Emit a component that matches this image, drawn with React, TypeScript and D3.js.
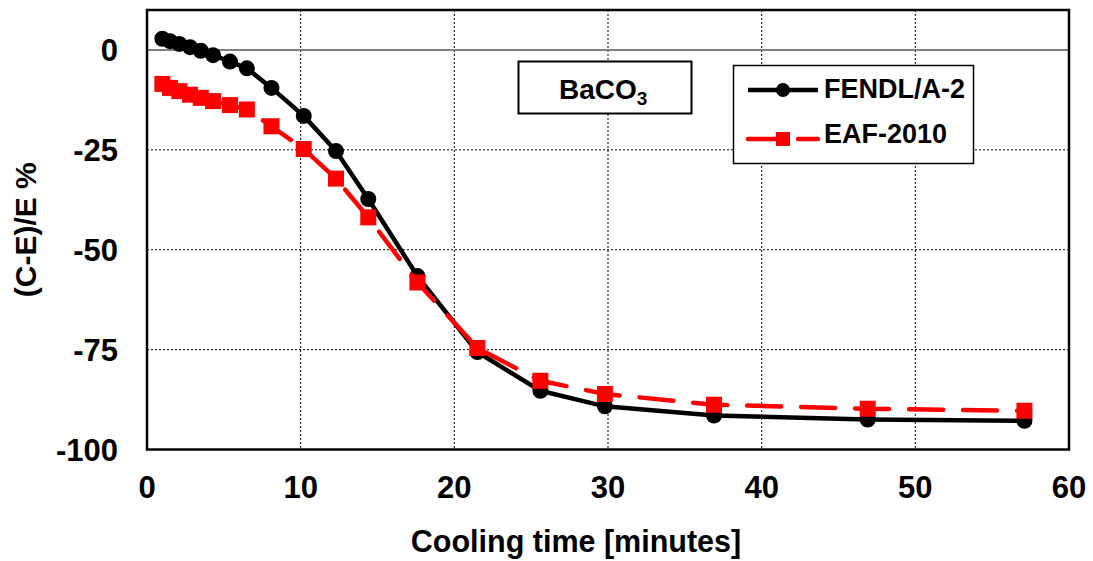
import React from "react";
import * as d3 from "d3";

// Cooling times (minutes) at which both libraries were compared
const coolingTimes = [1.0, 1.5, 2.1, 2.8, 3.5, 4.3, 5.4, 6.5, 8.1, 10.2, 12.3, 14.4, 17.6, 21.5, 25.6, 29.8, 36.9, 46.9, 57.1];
// (C-E)/E deviations in percent
const fendlValues = [2.8, 2.2, 1.5, 0.7, -0.2, -1.3, -2.9, -4.6, -9.5, -16.5, -25.3, -37.3, -56.6, -75.6, -85.3, -89.2, -91.5, -92.5, -92.8];
const eafValues = [-8.5, -9.5, -10.3, -11.2, -12.0, -12.8, -13.8, -14.9, -19.1, -24.8, -32.2, -41.9, -58.2, -74.6, -82.8, -86.1, -88.8, -89.8, -90.3];

const xTicks = [0, 10, 20, 30, 40, 50, 60];
const yTicks = [0, -25, -50, -75, -100];
const seriesNames = ["FENDL/A-2", "EAF-2010"];

const W = 1093;
const H = 561;
const plot = { left: 147, right: 1069, top: 10, bottom: 449.5 };
const FONT = "'Liberation Sans', Arial, Helvetica, sans-serif";

export default function App() {
  const x = d3.scaleLinear().domain([0, 60]).range([plot.left, plot.right]);
  const y = d3.scaleLinear().domain([-100, 10]).range([plot.bottom, plot.top]);

  const line = d3
    .line<[number, number]>()
    .x((d) => x(d[0]))
    .y((d) => y(d[1]));

  const fendl: [number, number][] = coolingTimes.map((t, i) => [t, fendlValues[i]]);
  const eaf: [number, number][] = coolingTimes.map((t, i) => [t, eafValues[i]]);

  const sq = 16;

  return (
    <svg
      width={W}
      height={H}
      style={{ position: "absolute", left: 0, top: 0, background: "#fff" }}
      fontFamily={FONT}
      fontWeight="bold"
    >
      <rect x={0} y={0} width={W} height={H} fill="#fff" />

      {/* grid */}
      {xTicks.slice(1, -1).map((t) => (
        <line key={"gx" + t} x1={x(t)} x2={x(t)} y1={plot.top} y2={plot.bottom} stroke="#000" strokeWidth={1} strokeDasharray="2 2" />
      ))}
      {yTicks.filter((t) => t !== 0 && t !== -100).map((t) => (
        <line key={"gy" + t} x1={plot.left} x2={plot.right} y1={y(t)} y2={y(t)} stroke="#000" strokeWidth={1} strokeDasharray="2 2" />
      ))}
      {/* zero reference */}
      <line x1={plot.left} x2={plot.right} y1={y(0)} y2={y(0)} stroke="#808080" strokeWidth={2} />

      {/* FENDL/A-2 series */}
      <path d={line(fendl) || ""} fill="none" stroke="#000" strokeWidth={4.5} strokeLinejoin="round" />
      {fendl.map((d, i) => (
        <circle key={"f" + i} cx={x(d[0])} cy={y(d[1])} r={8} fill="#000" />
      ))}

      {/* EAF-2010 series */}
      <path d={line(eaf) || ""} fill="none" stroke="#ff0000" strokeWidth={4.5} strokeDasharray="34 20" strokeLinecap="round" strokeLinejoin="round" />
      {eaf.map((d, i) => (
        <rect key={"e" + i} x={x(d[0]) - sq / 2} y={y(d[1]) - sq / 2} width={sq} height={sq} fill="#ff0000" />
      ))}

      {/* plot frame */}
      <rect x={plot.left} y={plot.top} width={plot.right - plot.left} height={plot.bottom - plot.top} fill="none" stroke="#000" strokeWidth={2.5} />

      {/* axis tick labels */}
      {yTicks.map((t) => (
        <text key={"ty" + t} x={118} y={y(t)} dy="0.36em" textAnchor="end" fontSize={31} fill="#000">
          {t}
        </text>
      ))}
      {xTicks.map((t) => (
        <text key={"tx" + t} x={x(t)} y={498} textAnchor="middle" fontSize={31} fill="#000">
          {t}
        </text>
      ))}

      {/* axis titles */}
      <text x={576} y={552} textAnchor="middle" fontSize={30.5} fill="#000">
        Cooling time [minutes]
      </text>
      <text transform={`translate(36, ${(plot.top + plot.bottom) / 2}) rotate(-90)`} textAnchor="middle" fontSize={30} fill="#000">
        (C-E)/E %
      </text>

      {/* material label */}
      <rect x={518.5} y={61.5} width={173} height={52} fill="#fff" stroke="#000" strokeWidth={2} />
      <text x={559} y={99} fontSize={28} fill="#000">
        BaCO<tspan fontSize={19} dy={6}>3</tspan>
      </text>

      {/* legend */}
      <rect x={733.5} y={65.5} width={240} height={98} fill="#fff" stroke="#000" strokeWidth={1.5} />
      <line x1={748} x2={818} y1={90} y2={90} stroke="#000" strokeWidth={4.5} />
      <circle cx={783} cy={90} r={7} fill="#000" />
      <text x={824} y={98} fontSize={27} fill="#000">
        {seriesNames[0]}
      </text>
      <line x1={748} x2={818} y1={139} y2={139} stroke="#ff0000" strokeWidth={4.5} strokeDasharray="36 14" strokeLinecap="round" />
      <rect x={783 - 7} y={139 - 7} width={14} height={14} fill="#ff0000" />
      <text x={824} y={143} fontSize={27} fill="#000">
        {seriesNames[1]}
      </text>
    </svg>
  );
}
